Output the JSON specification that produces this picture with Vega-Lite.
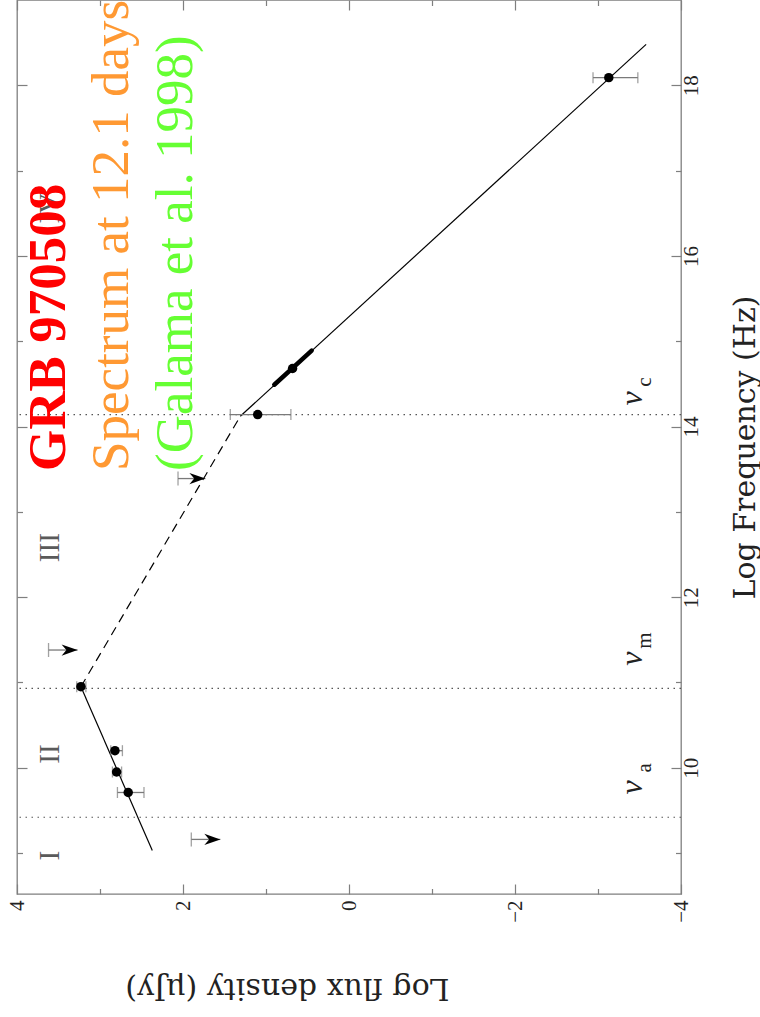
{
  "$schema": "https://vega.github.io/schema/vega-lite/v6.json",
  "width": 664,
  "height": 894,
  "autosize": {"type": "none"},
  "padding": {"left": 17, "top": 0, "right": 79, "bottom": 123},
  "background": "white",
  "config": {
    "view": {"stroke": "#7f7f7f", "strokeWidth": 1.3},
    "axis": {"grid": false, "domain": false, "tickColor": "#7f7f7f", "tickWidth": 1.2, "labelFlush": false, "labelOverlap": false, "labelBound": false}
  },
  "resolve": {"axis": {"x": "independent", "y": "independent"}},
  "datasets": {
    "points": [
      {"lognu": 18.09, "flux": -3.13, "lo": -2.94, "hi": -3.48},
      {"lognu": 14.68, "flux": 0.68},
      {"lognu": 14.14, "flux": 1.10, "lo": 1.43, "hi": 0.70},
      {"lognu": 10.95, "flux": 3.23, "lo": 3.28, "hi": 3.17},
      {"lognu": 10.20, "flux": 2.82, "lo": 2.87, "hi": 2.73},
      {"lognu": 9.95, "flux": 2.80, "lo": 2.85, "hi": 2.74},
      {"lognu": 9.71, "flux": 2.66, "lo": 2.79, "hi": 2.47}
    ],
    "limits": [
      {"lognu": 11.38, "limit": 3.62, "tip": 3.27},
      {"lognu": 13.39, "limit": 2.06, "tip": 1.73},
      {"lognu": 9.16, "limit": 1.90, "tip": 1.55}
    ],
    "segments": [
      {"part": "below peak", "f1": 2.37, "n1": 9.03, "f2": 3.23, "n2": 10.95},
      {"part": "peak to cooling", "f1": 3.23, "n1": 10.95, "f2": 1.31, "n2": 14.12},
      {"part": "above cooling", "f1": 1.31, "n1": 14.12, "f2": -3.58, "n2": 18.48}
    ],
    "optical": [{"f1": 0.90, "n1": 14.49, "f2": 0.45, "n2": 14.89}],
    "breaks": [
      {"sub": "a", "lognu": 9.42, "labelnu": 9.77, "subnu": 10.0},
      {"sub": "m", "lognu": 10.93, "labelnu": 11.28, "subnu": 11.49},
      {"sub": "c", "lognu": 14.14, "labelnu": 14.33, "subnu": 14.52}
    ],
    "regions": [
      {"label": "I", "lognu": 8.97},
      {"label": "II", "lognu": 10.16},
      {"label": "III", "lognu": 12.58},
      {"label": "IV", "lognu": 16.56}
    ],
    "captions": [
      {"text": "GRB 970508", "flux": 3.42},
      {"text": "Spectrum at 12.1 days", "flux": 2.66},
      {"text": "(Galama et al. 1998)", "flux": 1.89}
    ]
  },
  "layer": [
    {
      "data": {"name": "breaks"},
      "mark": {"type": "rule", "color": "#555555", "strokeWidth": 1.2, "strokeDash": [1.5, 4.5]},
      "encoding": {
        "y": {"field": "lognu", "type": "quantitative", "scale": {"domain": [8.52, 19], "nice": false, "zero": false}, "axis": null}
      }
    },
    {
      "data": {"name": "segments"},
      "transform": [{"filter": "datum.part !== 'peak to cooling'"}],
      "mark": {"type": "rule", "color": "black", "strokeWidth": 1.2},
      "encoding": {
        "x": {"field": "f1", "type": "quantitative", "scale": {"domain": [4, -4], "nice": false, "zero": false},
          "axis": {"orient": "top", "values": [-4, -2, 0, 2, 4], "tickSize": -10, "labels": false, "title": null}},
        "x2": {"field": "f2"},
        "y": {"field": "n1", "type": "quantitative", "scale": {"domain": [8.52, 19], "nice": false, "zero": false},
          "axis": {"orient": "left", "values": [10, 12, 14, 16, 18], "tickSize": -10, "labels": false, "title": null}},
        "y2": {"field": "n2"}
      }
    },
    {
      "data": {"name": "segments"},
      "transform": [{"filter": "datum.part === 'peak to cooling'"}],
      "mark": {"type": "rule", "color": "black", "strokeWidth": 1.2, "strokeDash": [9, 6]},
      "encoding": {
        "x": {"field": "f1", "type": "quantitative", "scale": {"domain": [4, -4], "nice": false, "zero": false}, "axis": null},
        "x2": {"field": "f2"},
        "y": {"field": "n1", "type": "quantitative", "scale": {"domain": [8.52, 19], "nice": false, "zero": false}, "axis": null},
        "y2": {"field": "n2"}
      }
    },
    {
      "data": {"name": "optical"},
      "mark": {"type": "rule", "color": "black", "strokeWidth": 4.5, "strokeCap": "round"},
      "encoding": {
        "x": {"field": "f1", "type": "quantitative", "scale": {"domain": [4, -4], "nice": false, "zero": false}, "axis": null},
        "x2": {"field": "f2"},
        "y": {"field": "n1", "type": "quantitative", "scale": {"domain": [8.52, 19], "nice": false, "zero": false}, "axis": null},
        "y2": {"field": "n2"}
      }
    },
    {
      "data": {"name": "points"},
      "transform": [{"filter": "isValid(datum.lo)"}],
      "mark": {"type": "rule", "color": "#7a7a7a", "strokeWidth": 1.3},
      "encoding": {
        "x": {"field": "lo", "type": "quantitative", "scale": {"domain": [4, -4], "nice": false, "zero": false},
          "axis": {"orient": "bottom", "values": [-3, -1, 1, 3], "tickSize": -5.5, "labels": false, "title": null}},
        "x2": {"field": "hi"},
        "y": {"field": "lognu", "type": "quantitative", "scale": {"domain": [8.52, 19], "nice": false, "zero": false},
          "axis": {"orient": "right", "values": [9, 11, 13, 15, 17], "tickSize": -5.5, "labels": false, "title": null}}
      }
    },
    {
      "data": {"name": "points"},
      "transform": [{"filter": "isValid(datum.lo)"}],
      "mark": {"type": "tick", "orient": "vertical", "color": "#7a7a7a", "size": 11, "thickness": 1.3},
      "encoding": {
        "x": {"field": "lo", "type": "quantitative", "scale": {"domain": [4, -4], "nice": false, "zero": false}, "axis": null},
        "y": {"field": "lognu", "type": "quantitative", "scale": {"domain": [8.52, 19], "nice": false, "zero": false}, "axis": null}
      }
    },
    {
      "data": {"name": "points"},
      "transform": [{"filter": "isValid(datum.hi)"}],
      "mark": {"type": "tick", "orient": "vertical", "color": "#7a7a7a", "size": 11, "thickness": 1.3},
      "encoding": {
        "x": {"field": "hi", "type": "quantitative", "scale": {"domain": [4, -4], "nice": false, "zero": false}, "axis": null},
        "y": {"field": "lognu", "type": "quantitative", "scale": {"domain": [8.52, 19], "nice": false, "zero": false}, "axis": null}
      }
    },
    {
      "data": {"name": "limits"},
      "mark": {"type": "rule", "color": "#7a7a7a", "strokeWidth": 1.3},
      "encoding": {
        "x": {"field": "limit", "type": "quantitative", "scale": {"domain": [4, -4], "nice": false, "zero": false},
          "axis": {"orient": "top", "values": [-3, -1, 1, 3], "tickSize": -5.5, "labels": false, "title": null}},
        "x2": {"field": "tip"},
        "y": {"field": "lognu", "type": "quantitative", "scale": {"domain": [8.52, 19], "nice": false, "zero": false},
          "axis": {"orient": "left", "values": [9, 11, 13, 15, 17], "tickSize": -5.5, "labels": false, "title": null}}
      }
    },
    {
      "data": {"name": "limits"},
      "mark": {"type": "tick", "orient": "vertical", "color": "#7a7a7a", "size": 14, "thickness": 1.3},
      "encoding": {
        "x": {"field": "limit", "type": "quantitative", "scale": {"domain": [4, -4], "nice": false, "zero": false}, "axis": null},
        "y": {"field": "lognu", "type": "quantitative", "scale": {"domain": [8.52, 19], "nice": false, "zero": false}, "axis": null}
      }
    },
    {
      "data": {"name": "limits"},
      "mark": {"type": "point", "shape": "M0,0 L-2,-0.7 L-1.4,0 L-2,0.7 Z", "size": 256, "filled": true, "color": "black", "opacity": 1, "strokeWidth": 0},
      "encoding": {
        "x": {"field": "tip", "type": "quantitative", "scale": {"domain": [4, -4], "nice": false, "zero": false}, "axis": null},
        "y": {"field": "lognu", "type": "quantitative", "scale": {"domain": [8.52, 19], "nice": false, "zero": false}, "axis": null}
      }
    },
    {
      "data": {"name": "points"},
      "mark": {"type": "circle", "size": 90, "color": "black", "opacity": 1},
      "encoding": {
        "x": {"field": "flux", "type": "quantitative", "scale": {"domain": [4, -4], "nice": false, "zero": false},
          "axis": {"orient": "bottom", "values": [-4, -2, 0, 2, 4], "tickSize": -10,
            "labelAngle": 270, "labelAlign": "right", "labelBaseline": "middle", "labelPadding": 16,
            "labelFont": "Liberation Serif", "labelFontSize": 21, "labelColor": "#222222",
            "title": "Log flux density (μJy)", "titleFont": "DejaVu Serif", "titleFontSize": 30, "titleFontWeight": "normal", "titleColor": "#222222",
            "titleAngle": 180, "titleX": 270, "titleY": 93, "titleAlign": "center", "titleBaseline": "middle"}},
        "y": {"field": "lognu", "type": "quantitative", "scale": {"domain": [8.52, 19], "nice": false, "zero": false},
          "axis": {"orient": "right", "values": [10, 12, 14, 16, 18], "tickSize": -10,
            "labelAngle": 270, "labelAlign": "center", "labelBaseline": "top", "labelPadding": 9,
            "labelFont": "Liberation Serif", "labelFontSize": 21, "labelColor": "#222222",
            "title": "Log Frequency (Hz)", "titleFont": "DejaVu Serif", "titleFontSize": 30, "titleFontWeight": "normal", "titleColor": "#222222",
            "titleAngle": 270, "titleX": 64, "titleY": 447, "titleAlign": "center", "titleBaseline": "middle"}}
      }
    },
    {
      "data": {"name": "regions"},
      "mark": {"type": "text", "angle": 270, "align": "center", "baseline": "alphabetic", "font": "Liberation Serif", "fontSize": 29, "color": "#5a5a5a"},
      "encoding": {
        "x": {"datum": 3.49, "type": "quantitative", "scale": {"domain": [4, -4], "nice": false, "zero": false}, "axis": null},
        "y": {"field": "lognu", "type": "quantitative", "scale": {"domain": [8.52, 19], "nice": false, "zero": false}, "axis": null},
        "text": {"field": "label"}
      }
    },
    {
      "data": {"name": "breaks"},
      "mark": {"type": "text", "angle": 270, "align": "center", "baseline": "alphabetic", "font": "Liberation Serif", "fontStyle": "italic", "fontSize": 32, "color": "#222222", "text": "ν"},
      "encoding": {
        "x": {"datum": -3.53, "type": "quantitative", "scale": {"domain": [4, -4], "nice": false, "zero": false}, "axis": null},
        "y": {"field": "labelnu", "type": "quantitative", "scale": {"domain": [8.52, 19], "nice": false, "zero": false}, "axis": null}
      }
    },
    {
      "data": {"name": "breaks"},
      "mark": {"type": "text", "angle": 270, "align": "center", "baseline": "alphabetic", "font": "Liberation Serif", "fontSize": 21, "color": "#222222"},
      "encoding": {
        "x": {"datum": -3.64, "type": "quantitative", "scale": {"domain": [4, -4], "nice": false, "zero": false}, "axis": null},
        "y": {"field": "subnu", "type": "quantitative", "scale": {"domain": [8.52, 19], "nice": false, "zero": false}, "axis": null},
        "text": {"field": "sub"}
      }
    },
    {
      "data": {"name": "captions"},
      "transform": [{"filter": "datum.text === 'GRB 970508'"}],
      "mark": {"type": "text", "angle": 270, "align": "left", "baseline": "alphabetic", "font": "Liberation Serif", "fontWeight": "bold", "fontSize": 53},
      "encoding": {
        "x": {"field": "flux", "type": "quantitative", "scale": {"domain": [4, -4], "nice": false, "zero": false}, "axis": null},
        "y": {"datum": 13.48, "type": "quantitative", "scale": {"domain": [8.52, 19], "nice": false, "zero": false}, "axis": null},
        "text": {"field": "text"},
        "color": {"field": "text", "type": "nominal", "legend": null,
          "scale": {"domain": ["GRB 970508", "Spectrum at 12.1 days", "(Galama et al. 1998)"], "range": ["#ff0000", "#ff9933", "#66ff33"]}}
      }
    },
    {
      "data": {"name": "captions"},
      "transform": [{"filter": "datum.text !== 'GRB 970508'"}],
      "mark": {"type": "text", "angle": 270, "align": "left", "baseline": "alphabetic", "font": "Liberation Serif", "fontSize": 53},
      "encoding": {
        "x": {"field": "flux", "type": "quantitative", "scale": {"domain": [4, -4], "nice": false, "zero": false}, "axis": null},
        "y": {"datum": 13.48, "type": "quantitative", "scale": {"domain": [8.52, 19], "nice": false, "zero": false}, "axis": null},
        "text": {"field": "text"},
        "color": {"field": "text", "type": "nominal", "legend": null,
          "scale": {"domain": ["GRB 970508", "Spectrum at 12.1 days", "(Galama et al. 1998)"], "range": ["#ff0000", "#ff9933", "#66ff33"]}}
      }
    }
  ]
}
